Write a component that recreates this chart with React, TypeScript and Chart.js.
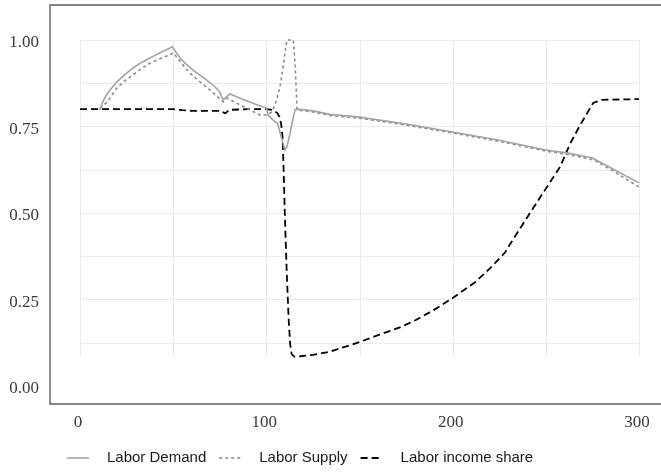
import React, { useEffect, useRef } from 'react';
import { Chart, registerables } from 'chart.js';

Chart.register(...registerables);

// ---- data ----
const seriesLabels = ['Labor Demand', 'Labor Supply', 'Labor income share'];

const demandX = [10.5, 11.5, 12.5, 13.5, 16, 19.8, 24, 28.5, 33, 37.6, 43, 48.3, 49.5, 53.7, 57, 60.7, 64, 68, 72, 75, 76.8, 77.5, 80.5, 85, 90, 95, 100, 101, 104.7, 106, 108, 110, 111, 112.7, 114, 115.4, 117, 125, 134, 150, 175, 200, 225, 250, 262, 275, 287, 300];
const demandY = [0.798, 0.81, 0.825, 0.835, 0.855, 0.879, 0.9, 0.919, 0.935, 0.948, 0.963, 0.977, 0.98, 0.948, 0.93, 0.913, 0.9, 0.884, 0.867, 0.85, 0.826, 0.83, 0.844, 0.834, 0.823, 0.813, 0.803, 0.783, 0.763, 0.76, 0.72, 0.682, 0.69, 0.73, 0.765, 0.798, 0.8, 0.795, 0.785, 0.777, 0.757, 0.734, 0.71, 0.682, 0.673, 0.659, 0.624, 0.587];

const supplyX = [10.7, 12.5, 14.4, 17, 19.8, 24, 28.5, 33, 37.6, 43, 48.3, 50, 53.5, 57.4, 60.5, 64.4, 68, 71.5, 76.8, 78.8, 85, 90, 96.6, 100, 103, 105.6, 107.5, 109, 110.2, 111, 114.5, 115.5, 116.5, 117, 125, 134, 150, 175, 200, 225, 250, 262, 276, 288, 300];
const supplyY = [0.803, 0.81, 0.82, 0.84, 0.861, 0.882, 0.899, 0.917, 0.933, 0.946, 0.957, 0.963, 0.94, 0.913, 0.897, 0.879, 0.863, 0.847, 0.821, 0.832, 0.815, 0.801, 0.783, 0.783, 0.792, 0.827, 0.87, 0.922, 0.97, 1.0, 1.0, 0.922, 0.798, 0.797, 0.792, 0.782, 0.774, 0.754, 0.731, 0.707, 0.679, 0.669, 0.653, 0.615, 0.575];

const shareX = [0, 10, 20, 30, 40, 50, 55, 60, 70, 75, 78, 80, 90, 100, 104, 106, 107, 108, 108.7, 109.3, 110, 111, 112, 112.8, 113.6, 115, 118, 125, 134, 150, 160, 172, 180, 190, 200, 212, 220, 228, 232, 241.5, 248.5, 257.6, 263, 268, 275.4, 280, 290, 300];
const shareY = [0.8, 0.8, 0.8, 0.8, 0.8, 0.8, 0.797, 0.795, 0.795, 0.795, 0.788, 0.798, 0.8, 0.8, 0.797, 0.788, 0.778, 0.755, 0.72, 0.62, 0.48, 0.32, 0.19, 0.12, 0.092, 0.085, 0.086, 0.09, 0.099, 0.127, 0.147, 0.17, 0.19, 0.22, 0.254, 0.3, 0.34, 0.385, 0.42, 0.5, 0.558, 0.633, 0.7, 0.75, 0.818, 0.827, 0.828, 0.829];

const xTickValues = [0, 100, 200, 300];
const yTickValues = [0, 0.25, 0.5, 0.75, 1.0];
const gridXValues = [0, 50, 100, 150, 200, 250, 300];
const gridYValues = [0.125, 0.25, 0.375, 0.5, 0.625, 0.75, 0.875, 1.0];
const panelYRange = [0.084, 1.0];
const panelXRange = [0, 300];

const seriesColors = ['#a3a3a3', '#8c8c8c', '#000000'];
const seriesDashes: number[][] = [[], [3, 3], [7, 4]];
const seriesWidths = [1.6, 1.6, 1.8];

const panelPlugin = {
  id: 'panelPlugin',
  beforeDatasetsDraw(chart: any) {
    const { ctx, scales } = chart;
    const x = scales.x;
    const y = scales.y;
    ctx.save();
    ctx.strokeStyle = '#ebebeb';
    ctx.lineWidth = 1;
    const yTop = y.getPixelForValue(panelYRange[1]);
    const yBot = y.getPixelForValue(panelYRange[0]);
    const xL = x.getPixelForValue(panelXRange[0]);
    const xR = x.getPixelForValue(panelXRange[1]);
    gridXValues.forEach((v) => {
      const px = Math.round(x.getPixelForValue(v)) + 0.5;
      ctx.beginPath();
      ctx.moveTo(px, yTop);
      ctx.lineTo(px, yBot);
      ctx.stroke();
    });
    gridYValues.forEach((v) => {
      const py = Math.round(y.getPixelForValue(v)) + 0.5;
      ctx.beginPath();
      ctx.moveTo(xL, py);
      ctx.lineTo(xR, py);
      ctx.stroke();
    });
    ctx.restore();
  },
  afterDraw(chart: any) {
    const { ctx, chartArea } = chart;
    ctx.save();
    // frame: left, top, bottom
    ctx.strokeStyle = '#5e5e5e';
    ctx.lineWidth = 1.4;
    ctx.beginPath();
    ctx.moveTo(chartArea.right, chartArea.top);
    ctx.lineTo(chartArea.left, chartArea.top);
    ctx.lineTo(chartArea.left, chartArea.bottom);
    ctx.lineTo(chartArea.right, chartArea.bottom);
    ctx.stroke();

    // legend
    ctx.font = '15px "Liberation Sans", Arial, sans-serif';
    ctx.textBaseline = 'middle';
    ctx.fillStyle = '#1a1a1a';
    const ly = 458;
    const symW = 22;
    const symGap = 18;
    const itemGap = 13;
    let cx = 67;
    chart.data.datasets.forEach((ds: any) => {
      ctx.save();
      ctx.strokeStyle = ds.borderColor;
      ctx.lineWidth = ds.borderWidth;
      ctx.setLineDash(ds.borderDash || []);
      ctx.beginPath();
      ctx.moveTo(cx, ly);
      ctx.lineTo(cx + symW, ly);
      ctx.stroke();
      ctx.restore();
      cx += symW + symGap;
      ctx.fillText(ds.label, cx, ly);
      cx += ctx.measureText(ds.label).width + itemGap;
    });
    ctx.restore();
  },
};

function toPoints(xs: number[], ys: number[]) {
  return xs.map((v, i) => ({ x: v, y: ys[i] }));
}

function zeroPadding(scale: any) {
  scale.paddingTop = 0;
  scale.paddingBottom = 0;
  scale.paddingLeft = 0;
  scale.paddingRight = 0;
}

export default function App() {
  const canvasRef = useRef<HTMLCanvasElement | null>(null);

  useEffect(() => {
    const canvas = canvasRef.current;
    if (!canvas) return;
    const data = [toPoints(demandX, demandY), toPoints(supplyX, supplyY), toPoints(shareX, shareY)];
    const chart = new Chart(canvas, {
      type: 'line',
      data: {
        datasets: seriesLabels.map((label, i) => ({
          label,
          data: data[i],
          borderColor: seriesColors[i],
          borderDash: seriesDashes[i],
          borderWidth: seriesWidths[i],
          pointRadius: 0,
          tension: 0,
          fill: false,
        })),
      },
      options: {
        responsive: false,
        animation: false,
        events: [],
        layout: { padding: { top: 5, right: 0, left: 0, bottom: 0 } },
        plugins: { legend: { display: false }, tooltip: { enabled: false } },
        scales: {
          x: {
            type: 'linear',
            min: -16.1,
            max: 311.8,
            grid: { display: false, drawTicks: false },
            border: { display: false },
            afterBuildTicks: (scale: any) => {
              scale.ticks = xTickValues.map((v) => ({ value: v }));
            },
            afterFit: (scale: any) => {
              scale.height = 71;
              zeroPadding(scale);
            },
            ticks: {
              padding: 8,
              labelOffset: -2,
              color: '#3a3a3a',
              font: { family: '"Liberation Serif", "Times New Roman", serif', size: 17 },
              callback: (v: any) => String(v),
            },
          },
          y: {
            type: 'linear',
            min: -0.052,
            max: 1.101,
            grid: { display: false, drawTicks: false },
            border: { display: false },
            afterBuildTicks: (scale: any) => {
              scale.ticks = yTickValues.map((v) => ({ value: v }));
            },
            afterFit: (scale: any) => {
              scale.width = 50;
              zeroPadding(scale);
            },
            ticks: {
              padding: 11,
              labelOffset: 3,
              color: '#3a3a3a',
              font: { family: '"Liberation Serif", "Times New Roman", serif', size: 17 },
              callback: (v: any) => Number(v).toFixed(2),
            },
          },
        },
      },
      plugins: [panelPlugin],
    } as any);
    return () => chart.destroy();
  }, []);

  return (
    <div style={{ position: 'absolute', left: 0, top: 0, width: 661, height: 475, background: '#ffffff' }}>
      <canvas ref={canvasRef} width={661} height={475} style={{ display: 'block', width: 661, height: 475 }} />
    </div>
  );
}
